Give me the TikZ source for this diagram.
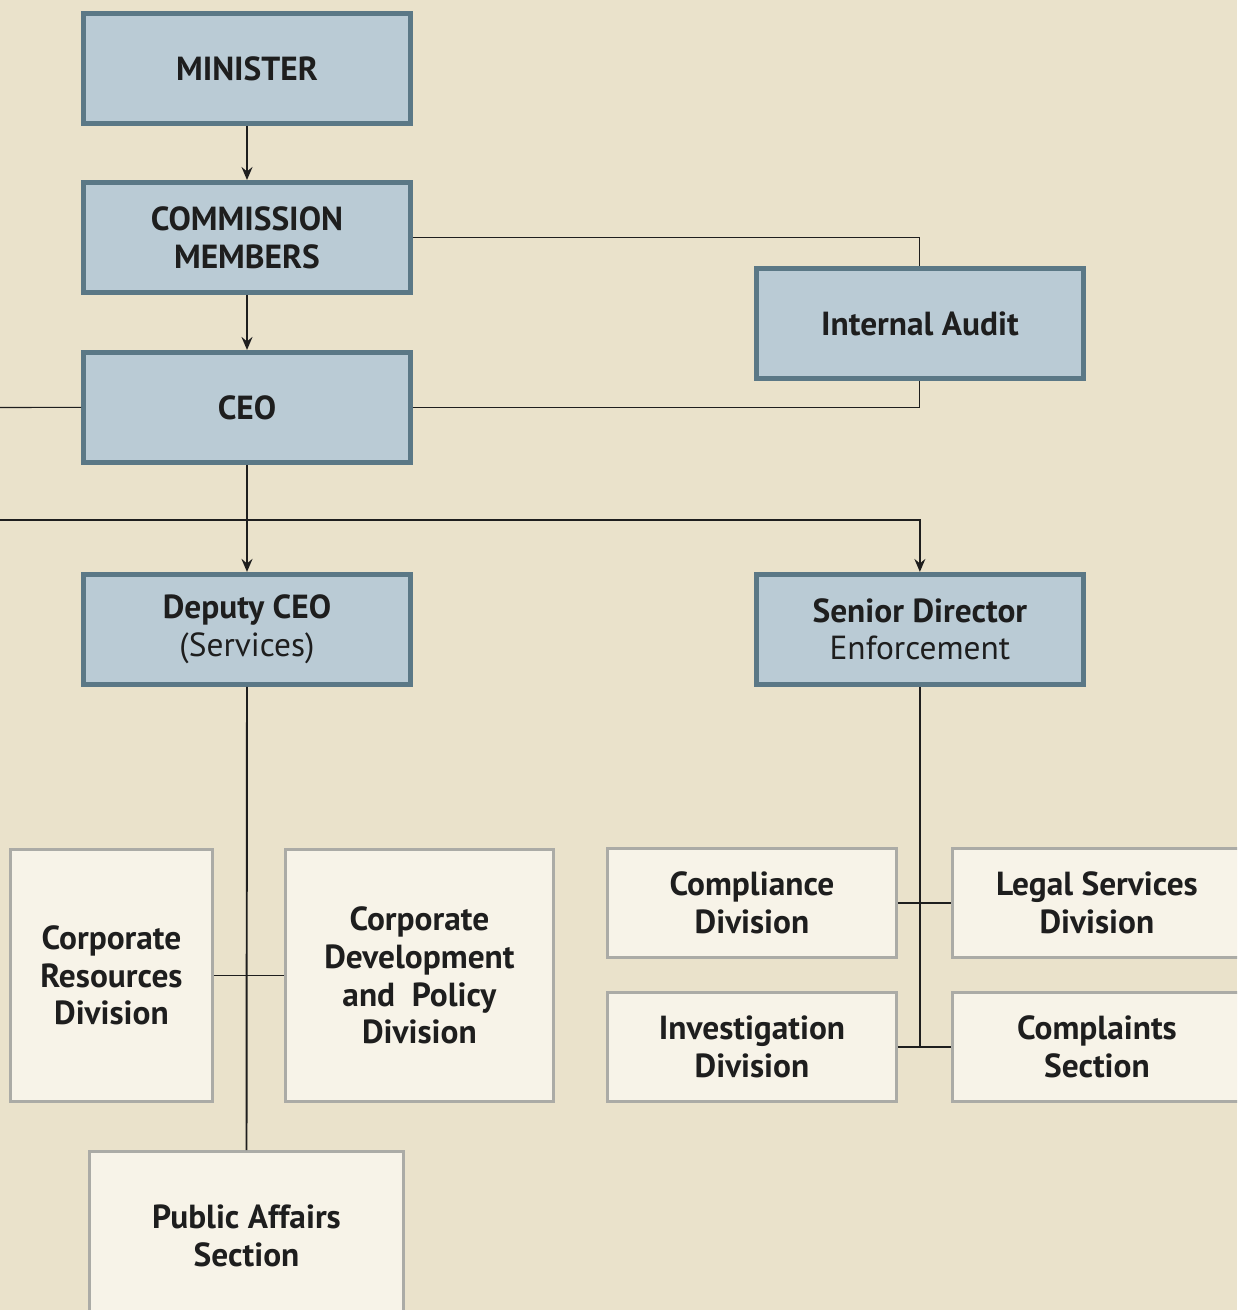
\documentclass[tikz,border=0pt]{standalone}
\usepackage{fontspec}
\setmainfont{PT Sans}
\usepackage{xcolor}
\usetikzlibrary{arrows.meta,positioning}

\definecolor{pagebg}{HTML}{EAE2CB}
\definecolor{bluefill}{HTML}{BACBD5}
\definecolor{blueline}{HTML}{5B7886}
\definecolor{creamfill}{HTML}{F7F3E8}
\definecolor{greyline}{HTML}{ABABA6}
\definecolor{inkdark}{HTML}{1E1E1E}

\begin{document}
\begin{tikzpicture}[
  x=0.02cm, y=-0.02cm,
  node distance=1.08cm and 1.06cm,
  unit/.style={draw, align=center, inner sep=2pt, text=inkdark, font=\fontsize{19}{21.5}\selectfont\bfseries},
  topbox/.style={unit, fill=bluefill, draw=blueline, line width=0.1cm, minimum width=6.54cm, minimum height=2.2cm},
  subbox/.style={unit, fill=creamfill, draw=greyline, line width=0.06cm, minimum height=2.18cm},
  arrow/.style={-{Stealth[length=2.6mm,width=2.2mm,inset=0.9mm]}, line width=1.1pt, draw=inkdark},
  link/.style={line width=0.6pt, draw=inkdark},
  stem/.style={line width=1.1pt, draw=inkdark}
]
\useasboundingbox (0,0) rectangle (1237,1310);
\clip (0,0) rectangle (1237,1310);
\fill[pagebg] (0,0) rectangle (1237,1310);

% top of the chart
\node[topbox] (minister) at (247,68.5) {MINISTER};
\node[topbox, below=of minister] (commission) {COMMISSION\\MEMBERS};
\node[topbox, below=1.1cm of commission] (ceo) {CEO};
\node[topbox, below=2.14cm of ceo] (deputy) {Deputy CEO\\{\mdseries (Services)}};
\node[topbox, right=6.82cm of deputy] (senior) {Senior Director\\{\mdseries Enforcement}};
\node[topbox, above=3.82cm of senior] (audit) {Internal Audit};

% services side
\node[subbox, minimum width=4.04cm, minimum height=5.04cm] (corpres) at (111.5,975.5) {Corporate\\Resources\\Division};
\node[subbox, minimum width=5.36cm, minimum height=5.04cm, right=1.4cm of corpres] (corpdev) {Corporate\\Development\\and\enspace Policy\\Division};
\node[subbox, minimum width=6.28cm, minimum height=3.38cm] (public) at (246.5,1236) {Public Affairs\\Section};

% enforcement side
\node[subbox, minimum width=5.78cm] (compliance) at (752,903) {Compliance\\Division};
\node[subbox, minimum width=5.78cm, right=of compliance] (legal) {Legal Services\\Division};
\node[subbox, minimum width=5.78cm, below=0.64cm of compliance] (investigation) {Investigation\\Division};
\node[subbox, minimum width=5.78cm, right=of investigation] (complaints) {Complaints\\Section};

\coordinate (ceoleft) at (0,407.5);
\coordinate (busleft) at (0,520);
\coordinate (enfend) at (senior.south |- investigation.east);

\draw[arrow] (minister) -- (commission);
\draw[arrow] (commission) -- (ceo);
\draw[arrow] (ceo) -- (deputy);
\draw[link] (commission.east) -| (audit.north);
\draw[link] (ceo.east) -| (audit.south);
\draw[link] (ceo.west) -- (ceoleft);
\draw[arrow, line width=0.8pt] (busleft) -| (senior.north);

\draw[stem] (deputy.south) -- (public.north);
\draw[link] (corpres.east) -- (corpdev.west);

\draw[stem] (senior.south) -- (enfend);
\draw[link] (compliance.east) -- (legal.west);
\draw[link] (investigation.east) -- (complaints.west);
\end{tikzpicture}
\end{document}
